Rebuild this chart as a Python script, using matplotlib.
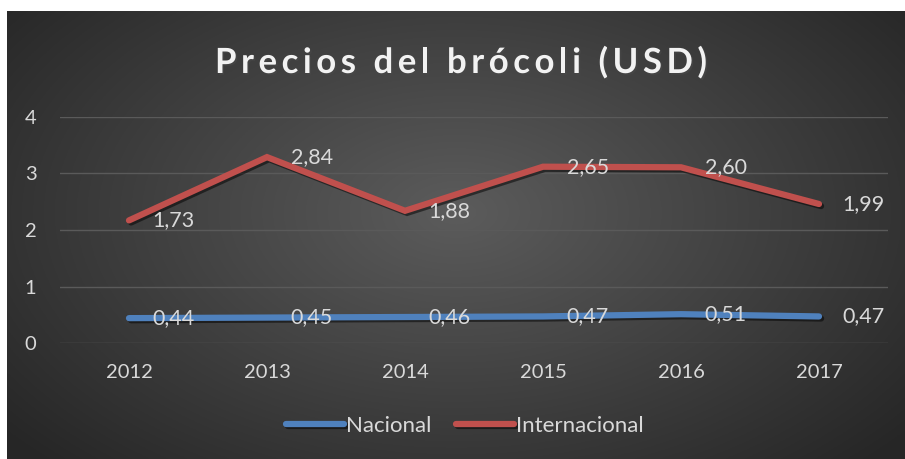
import numpy as np
import matplotlib
matplotlib.use('Agg')
import matplotlib.pyplot as plt
import matplotlib.patheffects as pe
from matplotlib import font_manager
from matplotlib.ft2font import FT2Font

# ====== 데이터 ======
years = ['2012', '2013', '2014', '2015', '2016', '2017']
nacional = [0.44, 0.45, 0.46, 0.47, 0.51, 0.47]
internacional = [1.73, 2.84, 1.88, 2.65, 2.60, 1.99]
series_names = ['Nacional', 'Internacional']
title = 'Precios del brócoli (USD)'
# ====================

W, H = 905, 459
FONT = ['Lato', 'DejaVu Sans']
plt.rcParams['font.family'] = FONT
TXT = '#d9d9d9'
FS = 14.5

fig = plt.figure(figsize=(W / 100, H / 100), dpi=100, facecolor='white')

# 배경: 방사형 그라데이션 (가운데 밝고 가장자리 어둡게)
bg = fig.add_axes([7 / W, 0, 1 - 7 / W, 1 - 11 / H])
bg.set_axis_off()
yy, xx = np.mgrid[0:1:300j, 0:1:600j]
r = np.sqrt(((xx - 0.5) / 0.62) ** 2 + ((yy - 0.45) / 0.75) ** 2)
shade = np.clip(0.36 - 0.20 * r, 0.15, 0.36)
bg.imshow(np.dstack([shade] * 3), aspect='auto', extent=[0, 1, 0, 1])
bg.set_xlim(0, 1)
bg.set_ylim(0, 1)

# 플롯 영역
x0, x1 = 60, 888
y_top, y_bot = 117, 343
ax = fig.add_axes([x0 / W, 1 - y_bot / H, (x1 - x0) / W, (y_bot - y_top) / H])
ax.patch.set_alpha(0)
x = np.arange(len(years))
ax.set_xlim(-0.5, len(years) - 0.5)
ax.set_ylim(0, 4)
ax.set_yticks([0, 1, 2, 3, 4])
ax.set_xticks(x)
ax.set_xticklabels(years)
for s in ax.spines.values():
    s.set_visible(False)
ax.tick_params(length=0, colors=TXT, labelsize=FS)
ax.tick_params(axis='y', pad=17)
ax.tick_params(axis='x', pad=15)
ax.grid(axis='y', color='#5a5a5a', linewidth=1)
ax.set_axisbelow(True)

# 누적 선 그래프
stacked = np.array(nacional) + np.array(internacional)
shadow = [pe.SimpleLineShadow(offset=(1.5, -1.5), shadow_color='black', alpha=0.5), pe.Normal()]
blue, red = '#4f81bd', '#c0504d'
ax.plot(x, nacional, color=blue, lw=4.5, solid_capstyle='round',
        solid_joinstyle='miter', path_effects=shadow, label=series_names[0], zorder=3)
ax.plot(x, stacked, color=red, lw=4.5, solid_capstyle='round',
        solid_joinstyle='miter', path_effects=shadow, label=series_names[1], zorder=3)

LFS = 15.5
for xi, yv, v in zip(x, nacional, nacional):
    ax.annotate(f'{v:.2f}'.replace('.', ','), (xi, yv), xytext=(17, 0), textcoords='offset points',
                va='center', ha='left', color=TXT, fontsize=LFS, zorder=4)
for xi, yv, v in zip(x, stacked, internacional):
    ax.annotate(f'{v:.2f}'.replace('.', ','), (xi, yv), xytext=(17, 0), textcoords='offset points',
                va='center', ha='left', color=TXT, fontsize=LFS, zorder=4)

# 제목: 자간을 넓혀 글자 하나씩 배치
title_size = 25
fp = font_manager.FontProperties(family='Lato', weight='bold')
ft = FT2Font(font_manager.findfont(fp))
ft.set_size(title_size, 100)
adv = [ft.load_char(ord(c)).linearHoriAdvance / 65536 for c in title]
target_w = 492
gap = (target_w - sum(adv)) / (len(title) - 1)
cx = 461
xpos = cx - target_w / 2
for c, a in zip(title, adv):
    if c != ' ':
        fig.text(xpos / W, 1 - 73 / H, c, ha='left', va='baseline', color='#f2f2f2',
                 fontsize=title_size, fontweight='bold',
                 path_effects=[pe.withSimplePatchShadow(offset=(1.2, -1.2), alpha=0.6)])
    xpos += a + gap

leg = fig.legend(loc='center', bbox_to_anchor=(465 / W, 1 - 426 / H), ncol=2,
                 frameon=False, fontsize=16, labelcolor=TXT,
                 handlelength=2.6, handletextpad=0.1, columnspacing=1.1)
for h in leg.get_lines():
    h.set_linewidth(4.5)
    h.set_solid_capstyle('round')

fig.savefig('out.png', dpi=100, facecolor='white')
